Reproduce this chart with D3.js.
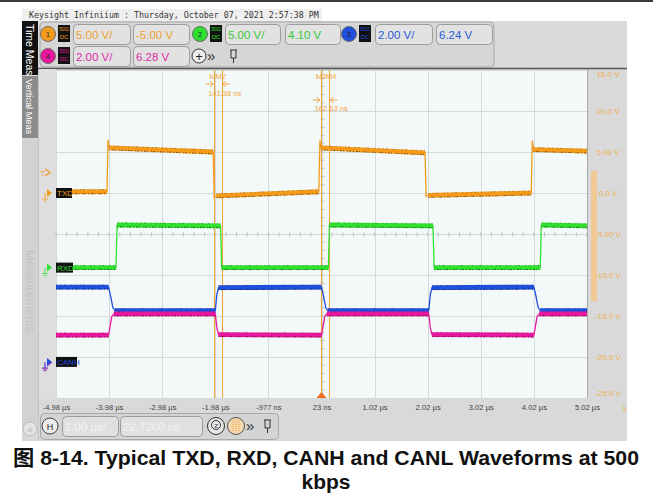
<!DOCTYPE html>
<html><head><meta charset="utf-8">
<script src="https://cdn.jsdelivr.net/npm/d3@7"></script>
<style>body{margin:0;background:#fff}svg{display:block}</style>
</head><body><svg id="c" width="653" height="502"></svg>
<script>
// ---------------- DATA ----------------
const headerText = "Keysight Infiniium : Thursday, October 07, 2021 2:57:38 PM";
const timeTickValues = [-4.98,-3.98,-2.98,-1.98,-0.977,0.023,1.02,2.02,3.02,4.02,5.02];
const timeTickLabels = ["-4.98 µs","-3.98 µs","-2.98 µs","-1.98 µs","-977 ns","23 ns","1.02 µs","2.02 µs","3.02 µs","4.02 µs","5.02 µs"];
const voltTickValues = [15,10,5,0,-5,-10,-15,-20,-25];
const voltTickLabels = ["15.0 V","10.0 V","5.00 V","0.0 V","-5.00 V","-10.0 V","-15.0 V","-20.0 V","-25.0 V"];
const channelNames = ["TXD","RXD","CANH","CANL"];
const channelNumbers = ["1","2","3","4"];
const channelScales = [5.00, 5.00, 2.00, 2.00];   // V/div
const channelOffsets = [-5.00, 4.10, 6.24, 6.28]; // V
const channelScaleLabels = ["5.00 V/","5.00 V/","2.00 V/","2.00 V/"];
const channelOffsetLabels = ["-5.00 V","4.10 V","6.24 V","6.28 V"];
// waveforms: [time µs, volts]
const txdWave = [[-4.98,0.15],[-4.02,0.15],[-4.00,6.5],[-3.98,5.5],[-2.02,5.0],[-2.00,-0.5],[-1.96,-0.35],[-0.03,0.15],[-0.01,6.4],[0.01,5.5],[1.97,4.9],[1.99,-0.4],[2.03,-0.3],[3.97,0.0],[3.99,6.4],[4.01,5.3],[5.02,5.1]];
const rxdWave = [[-4.98,0.0],[-3.85,0.0],[-3.83,5.2],[-1.88,5.1],[-1.86,0.0],[0.15,0.0],[0.17,5.2],[2.12,5.1],[2.14,0.0],[4.14,0.0],[4.16,5.2],[5.02,5.1]];
const canhWave = [[-4.98,3.65],[-3.99,3.65],[-3.95,3.2],[-3.91,2.65],[-3.87,2.5],[-1.98,2.5],[-1.95,3.3],[-1.92,3.62],[0.02,3.65],[0.06,3.2],[0.10,2.65],[0.14,2.5],[2.04,2.5],[2.07,3.3],[2.10,3.62],[4.02,3.65],[4.06,3.2],[4.10,2.65],[4.14,2.5],[5.02,2.5]];
const canlWave = [[-4.98,1.35],[-3.99,1.35],[-3.96,1.8],[-3.93,2.25],[-3.89,2.38],[-1.98,2.38],[-1.95,1.7],[-1.92,1.37],[0.02,1.35],[0.05,1.8],[0.08,2.25],[0.12,2.38],[2.04,2.38],[2.07,1.7],[2.10,1.37],[4.02,1.35],[4.05,1.8],[4.08,2.25],[4.12,2.38],[5.02,2.38]];
const markerTimes = [-2.0, -1.859, 0.005, 0.168];
const markerNames = ["MM2","M3M4"];
const markerDeltas = ["141.38 ns","162.63 ns"];
const triggerLevel = 2.5; // V, ch1
const horizLabels = ["1.00 µs/","22.7200 ns"];
const captionLine1 = "图 8-14. Typical TXD, RXD, CANH and CANL Waveforms at 500";
const captionLine2 = "kbps";

// ---------------- LAYOUT ----------------
const svg = d3.select("#c");
const L = 56, R = 587, T = 70, B = 398;
const colors = ["#f49b1c","#2fe02f","#1f4fdc","#e8189e"];
const darks = ["#4a2e00","#0e3a0e","#0b1650","#4a0a30"];
const textColors = ["#f0a030","#38c838","#2a5ad8","#e02aa8"];
const SANS = "'Liberation Sans', Arial, sans-serif";

const x = d3.scaleLinear().domain([-4.98, 5.02]).range([L, R]);
const yScales = channelScales.map((s,i) => d3.scaleLinear()
  .domain([channelOffsets[i] - 4*s, channelOffsets[i] + 4*s]).range([B, T]));

// top dark line
svg.append("rect").attr("x",0).attr("y",0).attr("width",653).attr("height",2).attr("fill","#3a3a3a");
// header band
svg.append("rect").attr("x",22).attr("y",9).attr("width",300).attr("height",12).attr("fill","#efefef");
svg.append("text").attr("x",29).attr("y",18).attr("font-family","'DejaVu Sans Mono', monospace")
  .attr("font-size",8.3).attr("fill","#333").text(headerText);

// instrument body
svg.append("rect").attr("x",22).attr("y",21).attr("width",605).attr("height",420).attr("fill","#d9d9d9");
// top control bar
svg.append("rect").attr("x",38).attr("y",21).attr("width",589).attr("height",47).attr("fill","#dadada");
svg.append("rect").attr("x",40).attr("y",22).attr("width",454).attr("height",45).attr("rx",4)
  .attr("fill","#d6d6d6").attr("stroke","#a8a8a8");
svg.append("line").attr("x1",38).attr("x2",627).attr("y1",68.5).attr("y2",68.5).attr("stroke","#555").attr("stroke-width",1.5);

function field(xx, yy, w, h, txt, col) {
  svg.append("rect").attr("x",xx+0.5).attr("y",yy+0.5).attr("width",w).attr("height",h).attr("rx",4)
    .attr("fill","#e2e2e2").attr("stroke","#9c9c9c");
  svg.append("text").attr("x",xx+3).attr("y",yy+h/2+4.5).attr("font-family",SANS).attr("font-size",11.5)
    .attr("fill",col).text(txt);
}
function chanBadge(cx, cy, i) {
  svg.append("circle").attr("cx",cx).attr("cy",cy).attr("r",7.5).attr("fill",colors[i]).attr("stroke","#6a6a6a");
  svg.append("text").attr("x",cx).attr("y",cy+2.5).attr("text-anchor","middle").attr("font-family",SANS)
    .attr("font-size",7).attr("fill","#222").text(channelNumbers[i]);
  svg.append("rect").attr("x",cx+10).attr("y",cy-9).attr("width",12).attr("height",17).attr("fill","#111");
  svg.append("text").attr("x",cx+16).attr("y",cy-3).attr("text-anchor","middle").attr("font-family",SANS)
    .attr("font-size",5).attr("fill",colors[i]).text("50Ω");
  svg.append("text").attr("x",cx+16).attr("y",cy+5).attr("text-anchor","middle").attr("font-family",SANS)
    .attr("font-size",6).attr("fill",colors[i]).text("DC");
}
const badgePos = [[48,34],[200,34],[349,34],[48,56]];
const fieldPos = [[73,57,133,56],[225,55,285,55],[375,57,436,56],[73,57,133,56]];
channelNames.forEach((n,i) => {
  const [cx,cy] = badgePos[i];
  chanBadge(cx,cy,i);
  const fy = cy - 10;
  field(fieldPos[i][0], fy, fieldPos[i][1], 20, channelScaleLabels[i], textColors[i]);
  field(fieldPos[i][2], fy, fieldPos[i][3], 20, channelOffsetLabels[i], textColors[i]);
});
// + » pin
svg.append("circle").attr("cx",199).attr("cy",56).attr("r",7).attr("fill","#eee").attr("stroke","#333");
svg.append("text").attr("x",199).attr("y",60.5).attr("text-anchor","middle").attr("font-family",SANS).attr("font-size",13).attr("fill","#222").text("+");
svg.append("text").attr("x",207).attr("y",61).attr("font-family",SANS).attr("font-size",15).attr("fill","#333").text("»");
svg.append("path").attr("d","M230,50 h7 M231,50 v8 h5 v-8 M233.5,58 v5").attr("stroke","#333").attr("fill","none");

// left tabs
svg.append("rect").attr("x",22).attr("y",21).attr("width",16).attr("height",54).attr("fill","#111");
svg.append("text").attr("transform","translate(26,24) rotate(90)").attr("font-family",SANS).attr("font-size",10.5)
  .attr("fill","#fff").text("Time Meas");
svg.append("rect").attr("x",22).attr("y",76).attr("width",16).attr("height",62).attr("fill","#8c8c8c");
svg.append("text").attr("transform","translate(26,79) rotate(90)").attr("font-family",SANS).attr("font-size",9.2)
  .attr("fill","#fff").text("Vertical Meas");
svg.append("rect").attr("x",22).attr("y",138).attr("width",16).attr("height",290).attr("fill","#d2d2d2");
svg.append("text").attr("transform","translate(25.5,250) rotate(90)").attr("font-family",SANS).attr("font-size",12.5)
  .attr("fill","#c4c4c4").text("Measurements");
svg.append("rect").attr("x",38).attr("y",69).attr("width",18).attr("height",330).attr("fill","#dedede");
svg.append("line").attr("x1",38.5).attr("x2",38.5).attr("y1",69).attr("y2",440).attr("stroke","#c4c4c4");

// plot area
svg.append("rect").attr("x",L).attr("y",T).attr("width",R-L).attr("height",B-T).attr("fill","#f3f8f8");
const grid = svg.append("g").attr("stroke","#d2dada").attr("stroke-width",1);
d3.range(11).forEach(i => {
  const gx = Math.round(x(-4.98 + i)) + 0.5;
  grid.append("line").attr("x1",gx).attr("x2",gx).attr("y1",T).attr("y2",B);
});
d3.range(9).forEach(i => {
  const gy = Math.round(yScales[0](15 - 5*i)) + 0.5;
  grid.append("line").attr("x1",L).attr("x2",R).attr("y1",gy).attr("y2",gy);
});
// center ticks
const cy0 = Math.round(yScales[0](-5)) + 0.5, cx0 = Math.round(x(0.02)) + 0.5;
const tickG = svg.append("g").attr("stroke","#b8c0c0");
d3.range(0, 10.01, 0.2).forEach(d => {
  const tx = x(-4.98 + d);
  tickG.append("line").attr("x1",tx).attr("x2",tx).attr("y1",cy0-2).attr("y2",cy0+2);
});
d3.range(0, 8.01, 0.2).forEach(d => {
  const ty = yScales[0](15 - 5*d);
  tickG.append("line").attr("x1",cx0-2).attr("x2",cx0+2).attr("y1",ty).attr("y2",ty);
});

// right side
svg.append("line").attr("x1",R+0.5).attr("x2",R+0.5).attr("y1",T).attr("y2",B).attr("stroke","#a9a9a9");
svg.append("rect").attr("x",591).attr("y",yScales[0](2.7)).attr("width",6)
  .attr("height",yScales[0](-13.2)-yScales[0](2.7)).attr("fill","#f2c995");
voltTickValues.forEach((v,i) => {
  let ty = yScales[0](v) + 3;
  ty = Math.max(T+7, Math.min(B-2, ty));
  svg.append("text").attr("x",608).attr("y",ty).attr("text-anchor","middle").attr("font-family",SANS)
    .attr("font-size",8).attr("fill","#f0b050").text(voltTickLabels[i]);
});
svg.append("text").attr("x",622).attr("y",411).attr("font-family",SANS).attr("font-size",8).attr("fill","#f0b050").text("1");

// x axis labels
const xAxis = d3.axisBottom(x).tickValues(timeTickValues.map((t,i)=>-4.98+i))
  .tickFormat((d,i)=>timeTickLabels[i]).tickSize(0).tickPadding(6);
const xg = svg.append("g").attr("transform",`translate(0,${B+1})`).call(xAxis);
xg.select(".domain").remove();
xg.selectAll("text").attr("font-family",SANS).attr("font-size",7.6).attr("fill","#444");

// markers
const markerG = svg.append("g");
markerTimes.forEach(t => {
  const mx = Math.round(x(t)) + 0.5;
  markerG.append("line").attr("x1",mx).attr("x2",mx).attr("y1",T).attr("y2",B).attr("stroke","#f0a640").attr("stroke-width",1.1);
});
[[0,1,84,93],[2,3,100,108]].forEach(([a,b,ay,ly],k) => {
  const xa = x(markerTimes[a]), xb = x(markerTimes[b]);
  markerG.append("text").attr("x",xa-5).attr("y",79).attr("font-family",SANS).attr("font-size",7.5)
    .attr("fill","#f0a640").text(markerNames[k]);
  markerG.append("path").attr("d",`M${xa-8},${ay} H${xa-1} M${xa-4},${ay-3} L${xa-1},${ay} L${xa-4},${ay+3} M${xb+8},${ay} H${xb+1} M${xb+4},${ay-3} L${xb+1},${ay} L${xb+4},${ay+3}`)
    .attr("stroke","#f0a640").attr("fill","none");
  markerG.append("text").attr("x",xa-6).attr("y",ly+3).attr("font-family",SANS).attr("font-size",7.5)
    .attr("fill","#f0a640").text(markerDeltas[k]);
});
// trigger position marker
const tpx = x(0.02);
svg.append("path").attr("d",`M${tpx-5},${B} L${tpx},${B-6} L${tpx+5},${B} Z`).attr("fill","#f06a20");

// waveforms
const waves = [txdWave, rxdWave, canhWave, canlWave];
waves.forEach((w,i) => {
  const y = yScales[i];
  const g = svg.append("g");
  const line = d3.line().x(d=>x(d[0])).y(d=>y(d[1]));
  g.append("path").attr("d",line(w)).attr("fill","none").attr("stroke",colors[i]).attr("stroke-width",1.3);
  for (let k=0; k<w.length-1; k++) {
    if (w[k+1][0]-w[k][0] > 0.3) {
      const seg = [w[k], w[k+1]];
      g.append("path").attr("d",line(seg)).attr("fill","none").attr("stroke",colors[i]).attr("stroke-width",4.8);
      g.append("path").attr("d",line(seg)).attr("transform","translate(0,1.9)").attr("fill","none")
        .attr("stroke",darks[i]).attr("stroke-width",0.9).attr("stroke-dasharray","1 2 2 1 1 3 1 1 2 2").attr("opacity",0.75);
      g.append("path").attr("d",line(seg)).attr("transform","translate(0,-2.1)").attr("fill","none")
        .attr("stroke",darks[i]).attr("stroke-width",0.7).attr("stroke-dasharray","1 4 1 2 2 5 1 3").attr("opacity",0.55);
    }
  }
});

// left channel markers
function gndMarker(i, label, w) {
  const gy = yScales[i](0);
  svg.append("path").attr("d",`M47,${gy-4} L52,${gy} L47,${gy+4} Z`).attr("fill",colors[i]);
  svg.append("path").attr("d",`M45,${gy} v6 M42,${gy+6} h6 M43.5,${gy+8} h3`).attr("stroke",colors[i]).attr("fill","none").attr("opacity",0.8);
  if (w > 0) {
    svg.append("rect").attr("x",56).attr("y",gy-5).attr("width",w).attr("height",10).attr("fill","#111");
    svg.append("text").attr("x",57).attr("y",gy+3).attr("font-family",SANS).attr("font-size",8)
      .attr("fill",colors[i]).text(label);
  }
}
gndMarker(3, "", 0);
gndMarker(0, "TXD", 16);
gndMarker(1, "RXD", 17);
gndMarker(2, "CANH", 21);
const trigY = yScales[0](triggerLevel);
svg.append("text").attr("x",40).attr("y",trigY+3).attr("font-family",SANS).attr("font-size",8).attr("fill","#f0a030").text("T");
svg.append("path").attr("d",`M45,${trigY-3.5} L50,${trigY} L45,${trigY+3.5}`).attr("stroke","#f0a030").attr("stroke-width",1.5).attr("fill","none");

// bottom control bar
svg.append("circle").attr("cx",30).attr("cy",429).attr("r",7).attr("fill","#e4e4e4").attr("stroke","#bdbdbd");
svg.append("text").attr("x",30).attr("y",433).attr("text-anchor","middle").attr("font-family",SANS).attr("font-size",11).attr("fill","#b8b8b8").text("»");
svg.append("rect").attr("x",40.5).attr("y",413.5).attr("width",238).attr("height",26).attr("rx",4).attr("fill","#d4d4d4").attr("stroke","#a8a8a8");
svg.append("circle").attr("cx",50).attr("cy",426).attr("r",8).attr("fill","#ececec").attr("stroke","#444");
svg.append("text").attr("x",50).attr("y",429.5).attr("text-anchor","middle").attr("font-family",SANS).attr("font-size",9).attr("fill","#222").text("H");
[[62,56],[120,82]].forEach(([fx,fw],k) => {
  svg.append("rect").attr("x",fx+0.5).attr("y",416.5).attr("width",fw).attr("height",20).attr("rx",4).attr("fill","#e0e0e0").attr("stroke","#9c9c9c");
  svg.append("text").attr("x",fx+3).attr("y",431).attr("font-family",SANS).attr("font-size",11.5).attr("fill","#f4f4f4").text(horizLabels[k]);
});
svg.append("circle").attr("cx",216).attr("cy",426).attr("r",8.5).attr("fill","#e8e8e8").attr("stroke","#333");
svg.append("circle").attr("cx",216).attr("cy",425).attr("r",4.5).attr("fill","none").attr("stroke","#333");
svg.append("text").attr("x",216).attr("y",428).attr("text-anchor","middle").attr("font-family",SANS).attr("font-size",6).attr("fill","#333").text("Z");
svg.append("circle").attr("cx",236).attr("cy",426).attr("r",8.5).attr("fill","#f3d8b0").attr("stroke","#555");
svg.append("path").attr("d","M233,420 v12 M236,420 v12 M239,420 v12").attr("stroke","#f0a030").attr("stroke-dasharray","1 1");
svg.append("text").attr("x",246).attr("y",431).attr("font-family",SANS).attr("font-size",15).attr("fill","#333").text("»");
svg.append("path").attr("d","M264,420 h7 M265,420 v8 h5 v-8 M267.5,428 v5").attr("stroke","#333").attr("fill","none");

// caption
svg.append("text").attr("x",326).attr("y",465).attr("text-anchor","middle")
  .attr("font-family","'Liberation Sans', Arial, 'Noto Sans CJK SC', sans-serif").attr("font-weight","bold")
  .attr("font-size",21).attr("fill","#111").attr("textLength",626).attr("lengthAdjust","spacingAndGlyphs").text(captionLine1);
svg.append("text").attr("x",326).attr("y",489).attr("text-anchor","middle")
  .attr("font-family","'Liberation Sans', Arial, sans-serif").attr("font-weight","bold")
  .attr("font-size",21).attr("fill","#111").text(captionLine2);
</script></body></html>
